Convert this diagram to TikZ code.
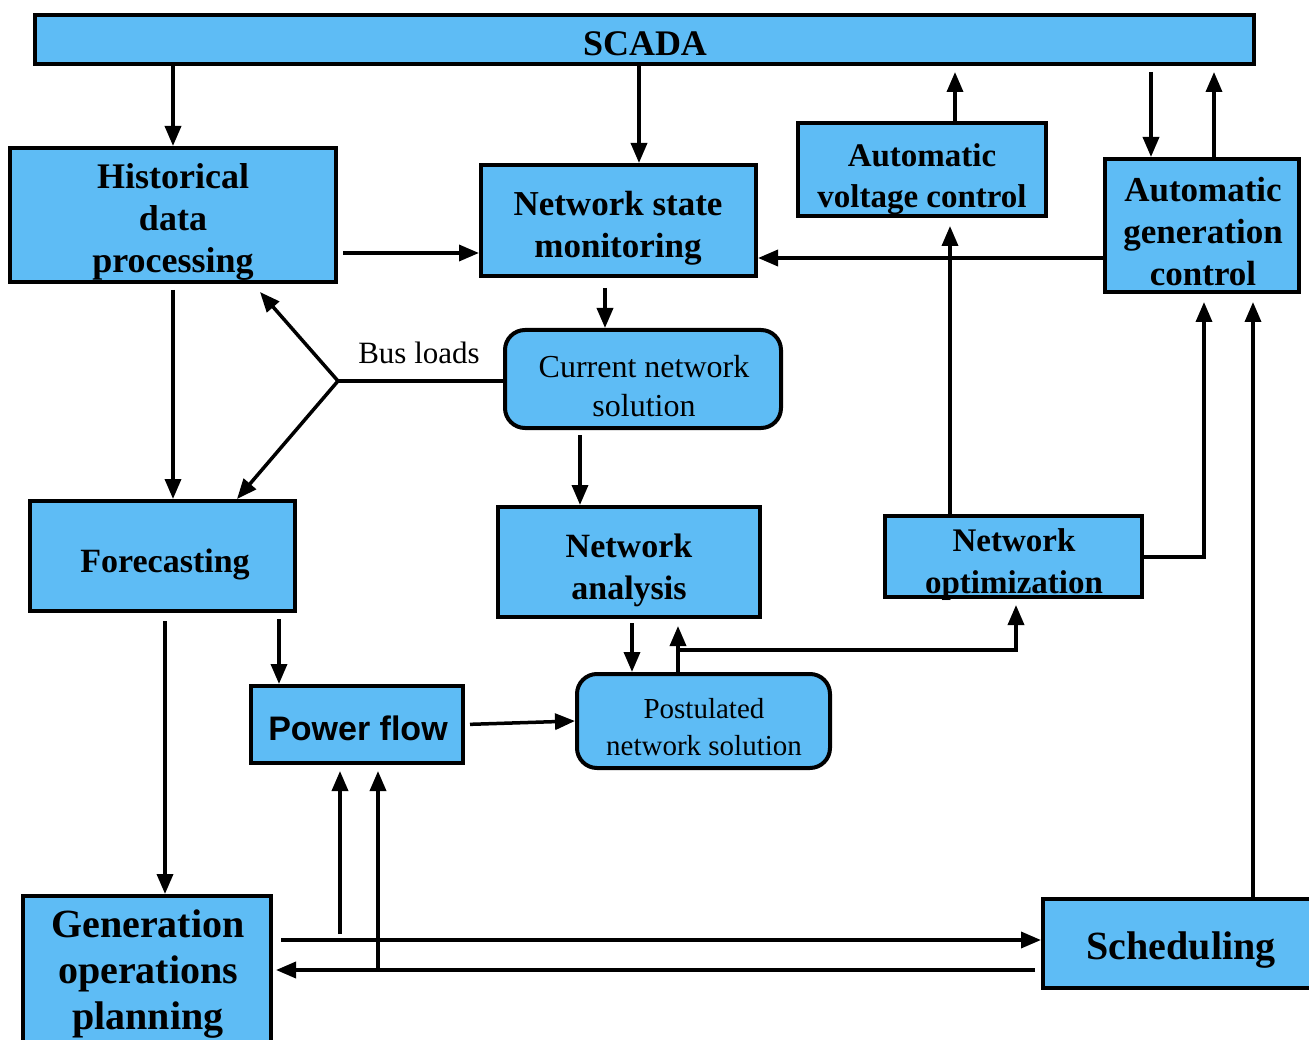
\documentclass[tikz,border=0pt]{standalone}
\usepackage{fontspec}
\setmainfont{Liberation Serif}
\newfontfamily\sansbold{Liberation Sans}
\usetikzlibrary{arrows.meta}
\definecolor{boxblue}{RGB}{94,188,245}
\tikzset{
  blk/.style={draw=black, line width=4pt, fill=boxblue, inner sep=0pt},
  rblk/.style={blk, rounded corners=20pt},
  lbl/.style={inner sep=0pt, align=center, text=black},
  title/.style={lbl, yshift=-3pt},
  arr/.style={line width=3.5pt, -{Triangle[length=20pt,width=16pt]}},
  ln/.style={line width=3.5pt},
  fs/.style 2 args={title, font=\fontsize{#1}{#2}\selectfont\bfseries},
  fr/.style 2 args={title, font=\fontsize{#1}{#2}\selectfont},
}
\begin{document}
\begin{tikzpicture}[x=1pt,y=-1pt]
\useasboundingbox (0,0) rectangle (1309,1040);
\clip (0,0) rectangle (1309,1040);

% block frames
\node[blk, minimum width=1219pt, minimum height=49pt] (scada) at (644.5,39.5) {};
\node[blk, minimum width=326pt, minimum height=134pt] (hist) at (173,215) {};
\node[blk, minimum width=275pt, minimum height=111pt] (nsm) at (618.5,220.5) {};
\node[blk, minimum width=248pt, minimum height=93pt] (avc) at (922,169.5) {};
\node[blk, minimum width=194pt, minimum height=133pt] (agc) at (1202,225.5) {};
\node[rblk, minimum width=276pt, minimum height=98pt] (cns) at (643,379) {};
\node[blk, minimum width=265pt, minimum height=110pt] (fore) at (162.5,556) {};
\node[blk, minimum width=262pt, minimum height=110pt] (na) at (629,562) {};
\node[blk, minimum width=257pt, minimum height=81pt] (nopt) at (1013.5,556.5) {};
\node[blk, minimum width=212pt, minimum height=77pt] (pf) at (357,724.5) {};
\node[rblk, minimum width=253pt, minimum height=94pt] (pns) at (703.5,721) {};
\node[blk, minimum width=248pt, minimum height=148pt] (gop) at (147,970) {};
\node[blk, minimum width=276pt, minimum height=89pt] (sched) at (1181,943.5) {};

% block titles
\node[fs={36}{42}] (scadat) at (645,41) {SCADA};
\node[fs={36}{42}] (histt) at (173,219) {Historical\\data\\processing};
\node[fs={35}{42}] (nsmt) at (618,225) {Network state\\monitoring};
\node[fs={33}{41}] (avct) at (922,176.5) {Automatic\\voltage control};
\node[fs={35}{42}] (agct) at (1203,229) {Automatic\\generation\\control};
\node[fr={32}{39}] (cnst) at (644,383) {Current network\\solution};
\node[fs={34}{42}] (foret) at (165,561) {Forecasting};
\node[fs={34}{42}] (nat) at (629,567) {Network\\analysis};
\node[fs={33}{42}] (nopt t) at (1014,562) {Network\\optimization};
\node[title, font=\fontsize{34}{40}\selectfont\sansbold\bfseries] (pft) at (358,725) {Power flow};
\node[fr={29}{37}] (pnst) at (704,724.5) {Postulated\\network solution};
\node[fs={40}{46}] (gopt) at (148,971) {Generation\\operations\\planning};
\node[fs={40}{46}] (schedt) at (1181,947) {Scheduling};

% SCADA links
\draw[arr] (scada.south -| hist.north) -- (hist.north);
\draw[arr] (scada.south -| 639,0) -- (nsm.north -| 639,0);
\draw[arr, shorten >=6pt] (avc.north -| 955,0) -- (scada.south -| 955,0);
\draw[arr, shorten <=6pt] (scada.south -| 1151,0) -- (agc.north -| 1151,0);
\draw[arr, shorten >=6pt] (agc.north -| 1214,0) -- (scada.south -| 1214,0);

% upper row
\draw[arr, shorten <=5pt] (hist.east |- 0,253) -- (nsm.west |- 0,253);
\draw[arr] (agc.west |- 0,258) -- (nsm.east |- 0,258);
\draw[arr, shorten >=8pt] (nopt.north -| 950,0) -- (avc.south -| 950,0);
\draw[arr, shorten <=10pt] (nsm.south -| 605,0) -- (cns.north -| 605,0);

% bus loads
\coordinate (split) at (338,381);
\coordinate (histtip) at (260,292);
\draw[ln] (cns.west |- split) -- (split);
\draw[arr] (split) -- (histtip);
\draw[arr] (split) -- (fore.north -| 237,0);
\node[lbl, font=\fontsize{31}{36}\selectfont, anchor=base] (busl) at (419,364) {Bus loads};

\draw[arr, shorten <=6pt] (hist.south) -- (fore.north -| hist.south);
\draw[arr, shorten <=5pt] (cns.south -| 580,0) -- (na.north -| 580,0);

% analysis / postulated solution
\draw[arr, shorten <=4pt] (na.south -| 632,0) -- (pns.north -| 632,0);
\draw[arr, shorten >=7pt] (pns.north -| 678,0) -- (na.south -| 678,0);
\coordinate (jn) at (678,650);
\draw[arr, shorten >=6pt] (jn) -- (jn -| 1016,0) -- (nopt.south -| 1016,0);
\draw[arr, shorten >=8pt] (nopt.east |- 0,557) -- (1204,557) -- (agc.south -| 1204,0);
\draw[arr, shorten >=8pt] (sched.north -| 1253,0) -- (agc.south -| 1253,0);

% lower part
\draw[arr, shorten <=6pt] (fore.south -| 279,0) -- (pf.north -| 279,0);
\draw[arr, shorten <=8pt] (fore.south -| 165,0) -- (gop.north -| 165,0);
\draw[arr, shorten <=5pt] (pf.east) -- (pns.west);
\draw[arr, shorten <=8pt] (gop.east |- 0,940) -- (sched.west |- 0,940);
\draw[arr, shorten <=6pt, shorten >=3pt] (sched.west |- 0,970) -- (gop.east |- 0,970);
\coordinate (upa) at (340,934);
\coordinate (upb) at (378,970);
\draw[arr, shorten >=6pt] (upa) -- (pf.south -| upa);
\draw[arr, shorten >=6pt] (upb) -- (pf.south -| upb);
\end{tikzpicture}
\end{document}
